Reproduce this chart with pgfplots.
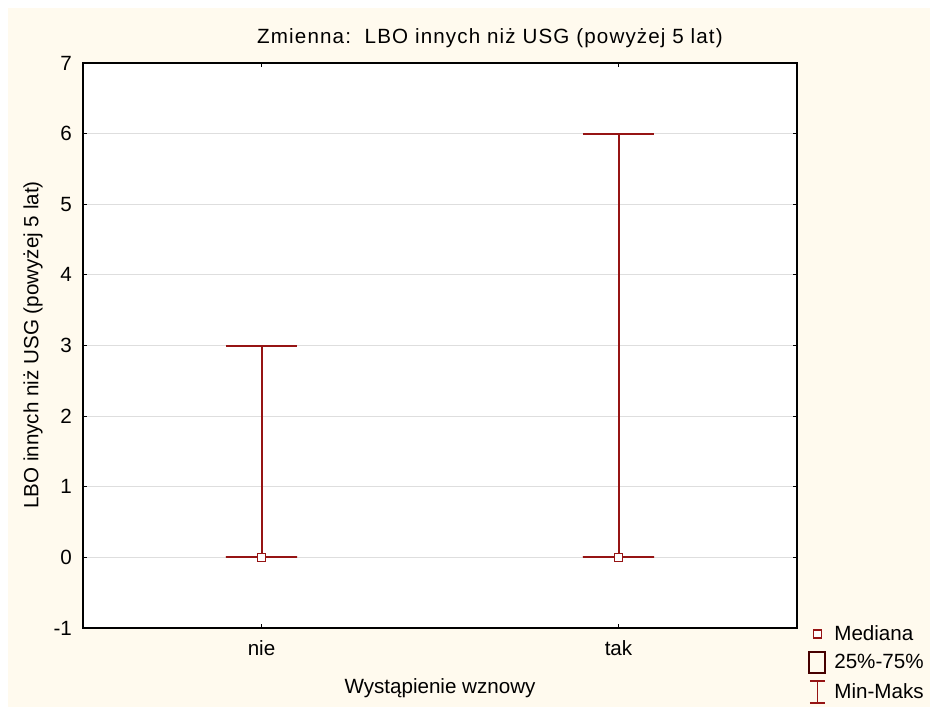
\documentclass[border=0pt]{standalone}
\usepackage{pgfplots}
\pgfplotsset{compat=1.18}
\usepgfplotslibrary{statistics}
\usepackage{fontspec}
\setmainfont{Liberation Sans}
\definecolor{cream}{RGB}{255,250,238}
\definecolor{bred}{RGB}{150,20,20}
\definecolor{boxdark}{RGB}{70,0,0}
\definecolor{gridgray}{RGB}{222,222,222}
\newcommand{\ff}{\fontsize{10.3}{12.4}\selectfont}
\begin{document}
\begin{tikzpicture}
\fill[white] (0,0) rectangle (465pt,353.5pt);
\fill[cream] (4pt,0) rectangle (465pt,349.5pt);
\begin{axis}[
  at={(41.5pt,39.5pt)}, anchor=south west,
  scale only axis, width=357pt, height=282.5pt,
  axis background/.style={fill=white},
  xmin=0.5, xmax=2.5, ymin=-1, ymax=7,
  xtick={1,2}, xticklabels={nie,tak},
  ytick={-1,0,1,2,3,4,5,6,7},
  ymajorgrids, major grid style={gridgray, line width=0.6pt},
  axis line style={black, line width=1pt},
  tick style={black, line width=0.6pt},
  major tick length=1.8pt,
  tick align=inside,
  font=\ff,
  /pgf/number format/assume math mode=true,
  yticklabel style={xshift=-2pt},
  xticklabel style={yshift=-3pt},
  boxplot/draw direction=y,
  boxplot/every box/.style={draw=bred, line width=1pt},
  boxplot/every whisker/.style={draw=bred, line width=1pt},
  boxplot/every median/.style={draw=bred, line width=1pt},
  clip=false,
  legend style={at={(rel axis cs:1,0)}, anchor=north west, xshift=2.5pt, yshift=5.5pt,
    draw=none, fill=none, row sep=1.6pt, font=\ff,
    cells={anchor=west}},
  legend cell align=left,
]
\addplot[boxplot prepared={draw position=1, lower whisker=0, lower quartile=0, median=0, upper quartile=0, upper whisker=3, box extend=0.2, whisker extend=0.2},
  draw=bred, line width=1pt, solid, mark=none, forget plot] coordinates {};
\addplot[boxplot prepared={draw position=2, lower whisker=0, lower quartile=0, median=0, upper quartile=0, upper whisker=6, box extend=0.2, whisker extend=0.2},
  draw=bred, line width=1pt, solid, mark=none, forget plot] coordinates {};
\addplot[only marks, mark=square*, mark size=2pt, mark options={draw=bred, fill=white, line width=0.8pt},
  legend image code/.code={\draw[bred, fill=white, line width=0.8pt] (0.095cm,-0.065cm) rectangle (0.235cm,0.075cm);}]
  coordinates {(1,0) (2,0)};
\addlegendentry{\hspace{2pt}Mediana}
\addlegendimage{legend image code/.code={\draw[boxdark, line width=1pt] (0.02cm,-0.17cm) rectangle (0.3cm,0.19cm);}}
\addlegendentry{\hspace{2pt}25\%-75\%}
\addlegendimage{legend image code/.code={\draw[bred, line width=0.8pt] (0.03cm,-0.19cm) -- (0.3cm,-0.19cm) (0.165cm,-0.19cm) -- (0.165cm,0.2cm) (0.03cm,0.2cm) -- (0.3cm,0.2cm);}}
\addlegendentry{\hspace{2pt}Min-Maks}
\end{axis}
\node[font=\ff\addfontfeatures{LetterSpace=5.5}] at (245pt,334.5pt) {Zmienna:\ \ LBO innych niż USG (powyżej 5 lat)};
\node[font=\ff] at (220pt,9.5pt) {Wystąpienie wznowy};
\node[font=\ff, rotate=90] at (16.5pt,181pt) {LBO innych niż USG (powyżej 5 lat)};
\pgfresetboundingbox
\useasboundingbox (0,0) rectangle (465pt,353.5pt);
\end{tikzpicture}
\end{document}
